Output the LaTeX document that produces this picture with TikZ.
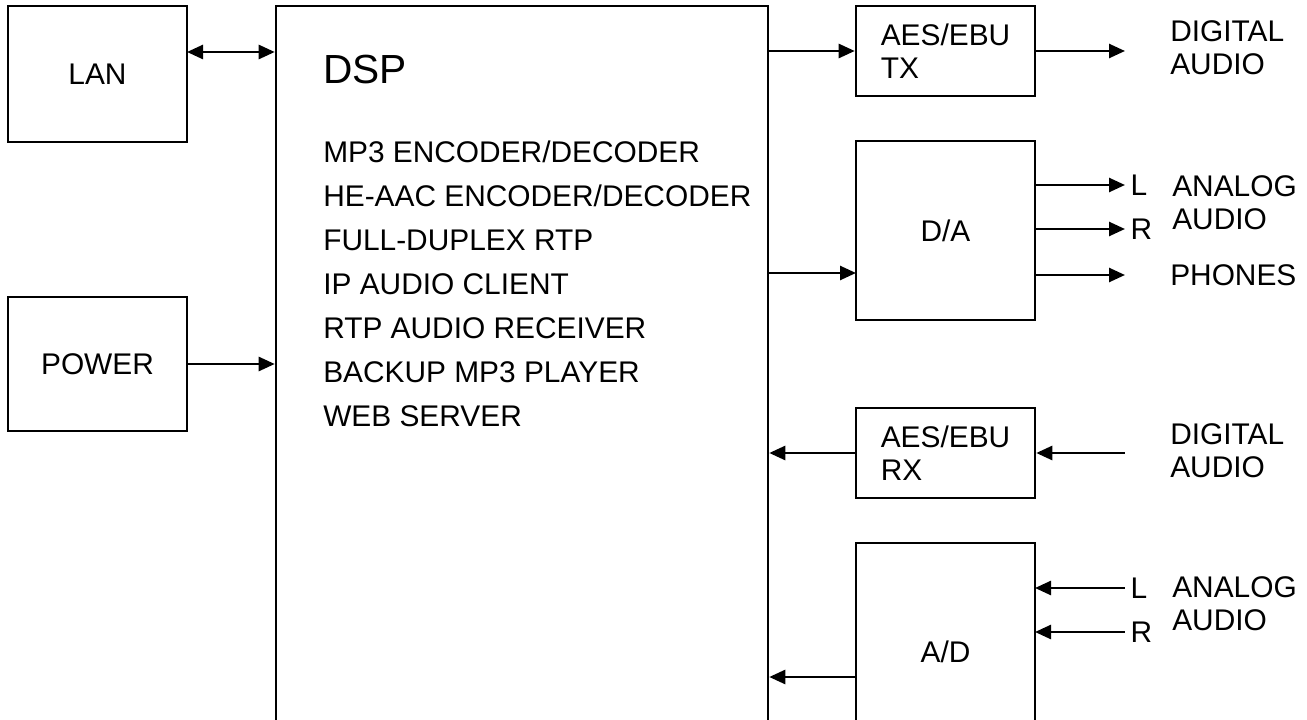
\documentclass[tikz,border=0pt]{standalone}
\usepackage{fontspec}
\setmainfont{Liberation Sans}
\usetikzlibrary{arrows.meta}

\begin{document}
\begin{tikzpicture}[
	x=0.75pt, y=-0.75pt,
	>={Triangle[length=12pt,width=10.5pt]},
	block/.style={draw, line width=1.9pt, inner sep=0pt, font=\fontsize{22.4}{24.5}\selectfont},
	link/.style={line width=1.9pt},
	tag/.style={font=\fontsize{22.4}{24.5}\selectfont, align=left}
	]
	\clip (0,0) rectangle (1307,720);

	% --- BLOCCHI ---
	\node[block, minimum width=134.25pt, minimum height=102pt] (lan) at (97.5,74) {LAN};
	\node[block, minimum width=134.25pt, minimum height=100.5pt] (power) at (97.5,364) {POWER};
	\node[block, minimum width=369pt, minimum height=565.5pt] (dsp) at (522,383) {};
	\node[block, minimum width=134.25pt, minimum height=67.5pt, align=left] (aestx) at (945.5,51) {AES/EBU\\TX};
	\node[block, minimum width=134.25pt, minimum height=134.25pt] (da) at (945.5,230.5) {D/A};
	\node[block, minimum width=134.25pt, minimum height=67.5pt, align=left] (aesrx) at (945.5,453) {AES/EBU\\RX};
	\node[block, minimum width=134.25pt, minimum height=162.75pt] (ad) at (945.5,651.5) {A/D};

	% testo del DSP
	\node[anchor=base west, inner sep=0pt, font=\fontsize{30.5}{36}\selectfont] (dspname) at (323,84) {DSP};
	\node[anchor=north west, inner sep=0pt, align=left, font=\fontsize{22.4}{33}\selectfont] (dsplist) at (323,141) {MP3 ENCODER/DECODER\\HE-AAC ENCODER/DECODER\\FULL-DUPLEX RTP\\IP AUDIO CLIENT\\RTP AUDIO RECEIVER\\BACKUP MP3 PLAYER\\WEB SERVER};

	% --- PORTE ---
	\coordinate (lanport) at (187,52);
	\coordinate (daport) at (856,273);
	\coordinate (adport) at (856,677);
	\coordinate (dal) at (1035,185);
	\coordinate (dar) at (1035,229);
	\coordinate (daph) at (1035,275);
	\coordinate (adl) at (1035,588);
	\coordinate (adr) at (1035,632);
	\coordinate (rim) at (1125,0);

	% --- COLLEGAMENTI ---
	\draw[link, <->] (lanport) -- (lanport -| dsp.west);
	\draw[link, ->] (power.east) -- (power.east -| dsp.west);
	\draw[link, ->] (aestx.west -| dsp.east) -- (aestx.west);
	\draw[link, ->] (aestx.east) -- (aestx.east -| rim);
	\draw[link, ->] (daport -| dsp.east) -- (daport);
	\draw[link, ->] (dal) -- (dal -| rim) node[tag, right] {L};
	\draw[link, ->] (dar) -- (dar -| rim) node[tag, right] {R};
	\draw[link, ->] (daph) -- (daph -| rim);
	\draw[link, <-] (aesrx.east) -- (aesrx.east -| rim);
	\draw[link, ->] (aesrx.west) -- (aesrx.west -| dsp.east);
	\draw[link, <-] (adl) -- (adl -| rim) node[tag, right] {L};
	\draw[link, <-] (adr) -- (adr -| rim) node[tag, right] {R};
	\draw[link, ->] (adport) -- (adport -| dsp.east);

	% --- ETICHETTE ESTERNE ---
	\node[tag, anchor=west, inner sep=0pt] (digout) at (1170,48) {DIGITAL\\AUDIO};
	\node[tag, anchor=west, inner sep=0pt] (anaout) at (1172,203) {ANALOG\\AUDIO};
	\node[tag, anchor=west, inner sep=0pt] (phones) at (1170,275) {PHONES};
	\node[tag, anchor=west, inner sep=0pt] (digin) at (1170,451) {DIGITAL\\AUDIO};
	\node[tag, anchor=west, inner sep=0pt] (anain) at (1172,604) {ANALOG\\AUDIO};

\end{tikzpicture}
\end{document}
